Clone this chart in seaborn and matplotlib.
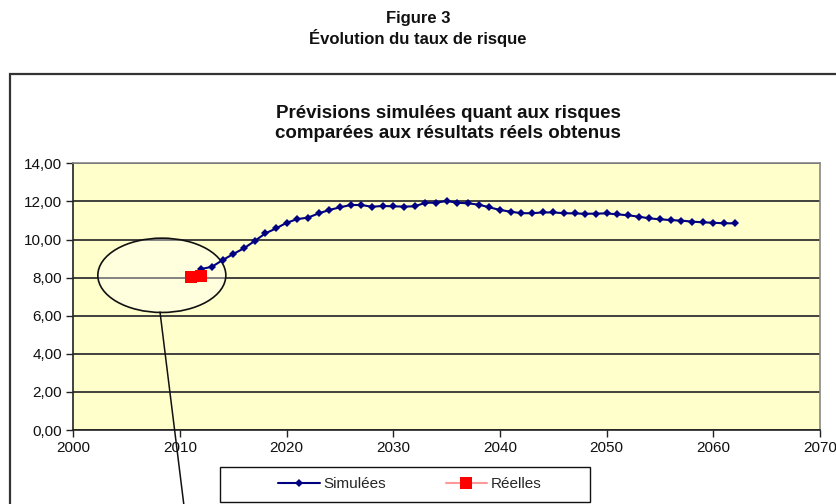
import matplotlib
matplotlib.use("Agg")
import matplotlib.pyplot as plt
import seaborn as sns
import pandas as pd
import numpy as np
from matplotlib.patches import Ellipse, Rectangle
from matplotlib.lines import Line2D
from matplotlib.ticker import FuncFormatter

# ---- data ----
sim_years = list(range(2012, 2063))
sim_values = [8.45, 8.57, 8.92, 9.24, 9.54, 9.92, 10.32, 10.58, 10.88, 11.07,
              11.15, 11.37, 11.55, 11.69, 11.81, 11.81, 11.72, 11.76, 11.74, 11.73,
              11.74, 11.93, 11.93, 12.02, 11.93, 11.90, 11.83, 11.69, 11.55, 11.46,
              11.38, 11.38, 11.42, 11.42, 11.38, 11.37, 11.35, 11.36, 11.37, 11.32,
              11.27, 11.20, 11.11, 11.06, 11.02, 10.99, 10.94, 10.90, 10.88, 10.85,
              10.85]
real_years = [2011, 2012]
real_values = [8.03, 8.10]
x_ticks = list(range(2000, 2071, 10))
y_ticks = [0, 2, 4, 6, 8, 10, 12, 14]

sns.set_theme(style="white")
plt.rcParams['font.family'] = ['Liberation Sans', 'DejaVu Sans']

df_sim = pd.DataFrame({"annee": sim_years, "taux": sim_values})
df_real = pd.DataFrame({"annee": real_years, "taux": real_values})

fig = plt.figure(figsize=(8.36, 5.04), dpi=100)
fig.patch.set_facecolor("white")
ax = fig.add_axes([73.3/836, 1-430/504, (820-73.3)/836, (430-163.3)/504])
ax.set_facecolor("#FFFFCC")

sns.lineplot(data=df_sim, x="annee", y="taux", ax=ax, color="#000080",
             marker="D", markersize=4.5, markeredgewidth=0, linewidth=1.5,
             label="Simulées", zorder=4)
sns.lineplot(data=df_real, x="annee", y="taux", ax=ax, color="#FF9999",
             marker="s", markersize=8, markerfacecolor="#FF0000",
             markeredgewidth=0, linewidth=1.5, label="Réelles", zorder=5)

ax.set_xlim(2000, 2070)
ax.set_ylim(0, 14)
ax.set_xticks(x_ticks)
ax.set_yticks(y_ticks)
ax.yaxis.set_major_formatter(FuncFormatter(lambda v, p: f"{v:.2f}".replace(".", ",")))
ax.set_xlabel("")
ax.set_ylabel("")
ax.grid(axis="y", color="#333333", linewidth=1.3)
ax.grid(axis="x", visible=False)
ax.set_axisbelow(True)
for s in ax.spines.values():
    s.set_color("#888888")
    s.set_linewidth(1.2)
ax.spines["left"].set_color("#222222")
ax.spines["bottom"].set_color("#222222")
ax.tick_params(axis="both", which="major", direction="out", length=5, width=1,
               color="#222222", labelsize=11, labelcolor="#111111", pad=3,
               left=True, bottom=True)

# ellipse annotation
ell = Ellipse((2008.3, 8.12), width=12.0, height=3.9, facecolor=(1, 1, 1, 0.35),
              edgecolor="#111111", linewidth=1.2, zorder=3)
ax.add_patch(ell)

# pointer line from ellipse down past the figure
fig.add_artist(Line2D([160/836, 184/836], [1-312/504, 1-506/504], color="#111111",
                      linewidth=1.1, transform=fig.transFigure))

# outer frame
fig.add_artist(Rectangle((10/836, -0.05), 1.2, (1-74/504)+0.05, transform=fig.transFigure,
                         facecolor="none", edgecolor="#333333", linewidth=1.6))

# titles
fig.text(418/836, 1-18/504, "Figure 3", ha="center", va="center",
         fontsize=12, fontweight="bold", color="#111111")
fig.text(418/836, 1-38/504, "Évolution du taux de risque", ha="center", va="center",
         fontsize=12, fontweight="bold", color="#111111")
fig.text(448/836, 1-114/504, "Prévisions simulées quant aux risques", ha="center",
         va="center", fontsize=13.5, fontweight="bold", color="#111111")
fig.text(448/836, 1-133/504, "comparées aux résultats réels obtenus", ha="center",
         va="center", fontsize=13.5, fontweight="bold", color="#111111")

# legend
if ax.legend_:
    ax.legend_.remove()
h, l = ax.get_legend_handles_labels()
leg = fig.legend(h, l, loc="center", bbox_to_anchor=(410/836, 1-484.5/504),
                 ncol=2, frameon=False, fontsize=11,
                 handlelength=2.7, handletextpad=0.25, columnspacing=3.9,
                 borderpad=0.3)
fig.add_artist(Rectangle((220/836, 1-502/504), (590-220)/836, (502-467)/504,
                         transform=fig.transFigure, facecolor="white",
                         edgecolor="#111111", linewidth=1.0, zorder=0))

fig.savefig("out.png", dpi=100, facecolor="white")
